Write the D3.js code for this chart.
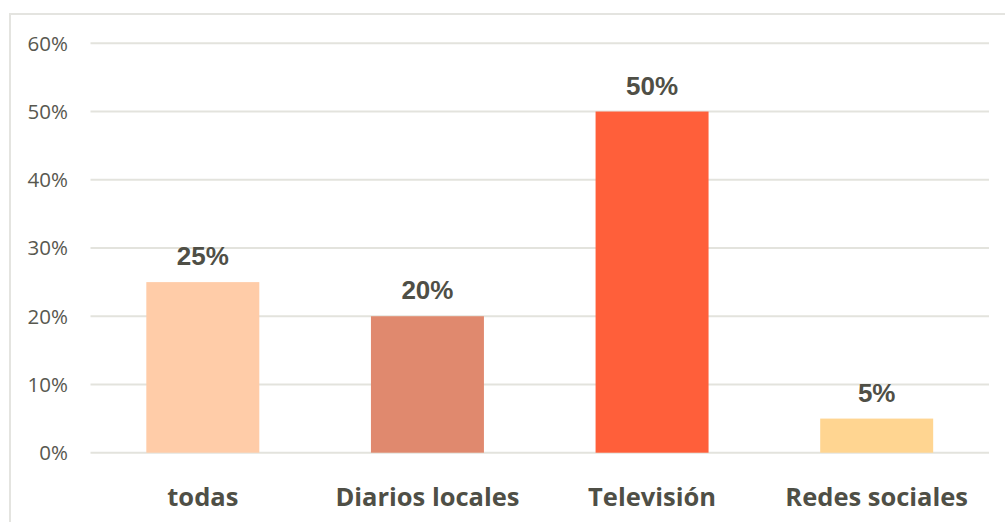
<!DOCTYPE html>
<html><head><meta charset="utf-8">
<script src="https://cdn.jsdelivr.net/npm/d3@7"></script>
<style>body{margin:0;background:#fff;}svg{display:block;}</style>
</head><body>
<svg id="c" width="1005" height="522"></svg>
<script>
const categories = ["todas", "Diarios locales", "Televisión", "Redes sociales"];
const values = [0.25, 0.20, 0.50, 0.05];
const colors = ["#FFCCA8", "#E0896E", "#FF5F3A", "#FFD591"];
const yTicks = [0, 0.1, 0.2, 0.3, 0.4, 0.5, 0.6];

const svg = d3.select("#c");
svg.append("rect").attr("x", 10).attr("y", 14).attr("width", 1100).attr("height", 600)
  .attr("fill", "none").attr("stroke", "#e4e4e0").attr("stroke-width", 2);

const x = d3.scaleBand().domain(categories).range([90.5, 989]).paddingInner(0.497).paddingOuter(0.2485);
const y = d3.scaleLinear().domain([0, 0.6]).range([452.7, 43.3]);

const grid = svg.append("g");
grid.selectAll("line").data(yTicks).join("line")
  .attr("x1", 90.5).attr("x2", 989)
  .attr("y1", d => y(d)).attr("y2", d => y(d))
  .attr("stroke", "#e3e3dd").attr("stroke-width", 2);

const yAxis = d3.axisLeft(y).tickValues(yTicks).tickFormat(d3.format(".0%")).tickSize(0).tickPadding(0);
const ya = svg.append("g").attr("transform", "translate(68,0)").call(yAxis);
ya.select(".domain").remove();
ya.selectAll("text").attr("font-family", "'Open Sans', sans-serif").attr("font-size", 20.5)
  .attr("fill", "#58584f").attr("dy", "0.34em");

svg.append("g").selectAll("rect").data(values).join("rect")
  .attr("x", (d, i) => x(categories[i])).attr("width", x.bandwidth())
  .attr("y", d => y(d)).attr("height", d => y(0) - y(d))
  .attr("fill", (d, i) => colors[i]);

svg.append("g").selectAll("text").data(values).join("text")
  .attr("x", (d, i) => x(categories[i]) + x.bandwidth() / 2)
  .attr("y", d => y(d) - 17)
  .attr("text-anchor", "middle")
  .attr("font-family", "'Liberation Sans', Arial, sans-serif").attr("font-weight", "bold")
  .attr("font-size", 26).attr("fill", "#4f4f46")
  .text(d3.format(".0%"));

const xAxis = d3.axisBottom(x).tickSize(0).tickPadding(0);
const xa = svg.append("g").attr("transform", "translate(0,506)").call(xAxis);
xa.select(".domain").remove();
xa.selectAll("text").attr("dy", 0).attr("font-family", "'Open Sans', sans-serif").attr("font-weight", "bold")
  .attr("font-size", 25.5).attr("fill", "#4f4f46");
</script>
</body></html>
